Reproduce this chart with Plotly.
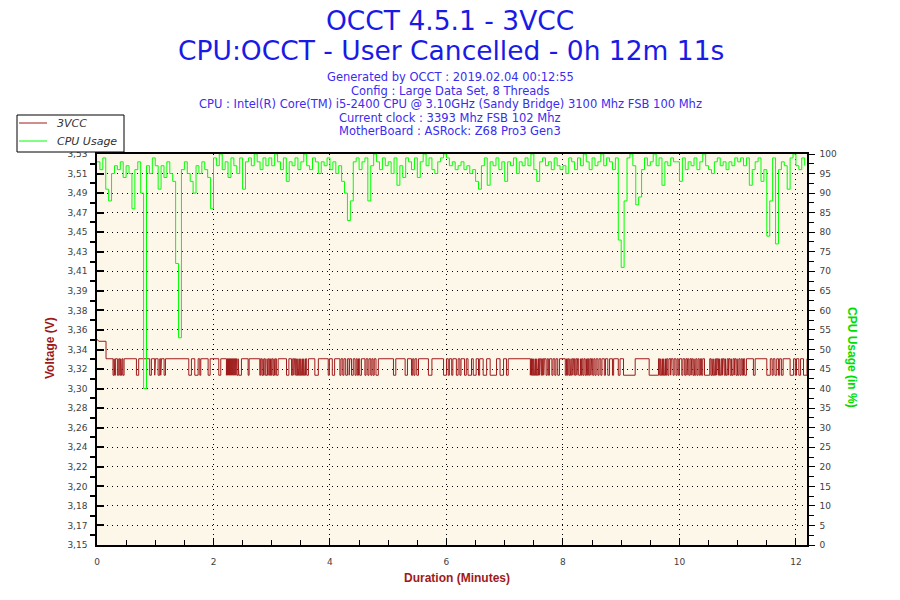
import plotly.graph_objects as go

# CPU usage (%), one value every 0.05 min (3 s)
cpu_step_min = 0.05
cpu_usage = [
    98, 96, 99, 91, 88, 95, 97, 96, 98, 94, 97, 95, 86, 96, 98, 90, 40, 97, 95, 99,
    97, 91, 97, 94, 98, 95, 93, 72, 53, 96, 98, 95, 93, 90, 97, 95, 98, 96, 94, 86,
    99, 97, 100, 96, 98, 94, 99, 97, 95, 99, 91, 98, 99, 97, 100, 98, 96, 99, 97, 99,
    97, 100, 98, 96, 99, 93, 98, 97, 99, 96, 98, 100, 97, 96, 99, 98, 95, 98, 97, 99,
    96, 98, 95, 97, 93, 90, 83, 88, 98, 99, 96, 98, 99, 88, 97, 100, 98, 96, 99, 97,
    98, 95, 99, 92, 97, 94, 99, 98, 96, 99, 94, 98, 100, 97, 99, 96, 95, 98, 99, 100,
    99, 97, 98, 96, 97, 98, 96, 97, 95, 96, 93, 91, 97, 99, 92, 98, 97, 99, 96, 98,
    93, 98, 97, 99, 95, 98, 97, 99, 97, 100, 96, 93, 98, 99, 97, 98, 96, 99, 97, 96,
    97, 95, 99, 98, 96, 99, 97, 100, 98, 96, 99, 97, 98, 100, 97, 99, 98, 96, 99, 78,
    71, 88, 99, 100, 97, 87, 89, 96, 99, 97, 98, 100, 97, 99, 92, 98, 97, 99, 98, 98,
    93, 99, 96, 98, 97, 99, 96, 98, 100, 97, 96, 95, 98, 99, 97, 98, 96, 98, 97, 99,
    98, 99, 97, 99, 92, 96, 98, 99, 93, 96, 79, 88, 99, 77, 96, 98, 97, 91, 99, 100,
    97, 96, 99, 97,
]
cpu_minutes = [i * cpu_step_min for i in range(len(cpu_usage))]

# 3VCC: start-up level, then toggles between a high and a low level
vcc_start = [(0.0, 3.350), (0.03, 3.348), (0.155, 3.348)]
vcc_high = 3.331
vcc_low = 3.315
vcc_end = 12.19
# (start, end) minutes of every interval spent on the low level
vcc_low_spans = [
    (0.275, 0.293), (0.304, 0.316), (0.350, 0.373), (0.390, 0.407), (0.419, 0.430),
    (0.445, 0.465), (0.677, 0.716), (0.905, 0.934), (0.991, 1.003), (1.049, 1.077),
    (1.094, 1.106), (1.152, 1.175), (1.576, 1.621), (1.679, 1.736), (1.765, 1.782),
    (1.908, 1.942), (2.091, 2.125),
    (2.222, 2.232), (2.240, 2.250), (2.258, 2.268), (2.276, 2.286), (2.294, 2.304),
    (2.312, 2.322), (2.330, 2.340), (2.348, 2.358), (2.366, 2.376), (2.384, 2.394),
    (2.402, 2.423), (2.435, 2.480), (2.595, 2.612),
    (2.795, 2.81), (2.83, 2.85), (2.86, 2.87), (2.89, 2.92), (2.93, 2.94), (2.96, 2.98),
    (2.99, 3.00), (3.02, 3.04), (3.05, 3.06), (3.08, 3.11), (3.254, 3.294),
    (3.34, 3.36), (3.38, 3.39), (3.41, 3.43), (3.44, 3.45), (3.46, 3.48), (3.49, 3.50),
    (3.51, 3.53), (3.54, 3.55), (3.56, 3.58), (3.60, 3.63), (3.74, 3.80), (3.97, 3.99),
    (4.04, 4.08), (4.17, 4.19), (4.22, 4.24), (4.27, 4.30), (4.33, 4.34), (4.37, 4.40),
    (4.43, 4.45), (4.47, 4.49), (4.51, 4.54), (4.60, 4.62), (4.65, 4.67), (4.70, 4.72),
    (4.74, 4.76), (4.79, 4.83), (5.09, 5.13), (5.29, 5.33), (5.40, 5.42), (5.44, 5.46),
    (5.49, 5.52), (5.69, 5.75), (5.95, 6.00), (6.03, 6.05),
    (6.09, 6.11), (6.17, 6.20), (6.23, 6.25), (6.31, 6.34), (6.37, 6.43), (6.46, 6.51),
    (6.55, 6.57), (6.63, 6.69), (6.75, 6.86), (6.92, 6.98), (7.03, 7.06),
    (7.44, 7.45), (7.46, 7.48), (7.49, 7.50), (7.51, 7.53), (7.54, 7.55), (7.56, 7.58),
    (7.60, 7.61), (7.63, 7.65), (7.67, 7.68), (7.71, 7.73), (7.75, 7.77),
    (7.81, 7.83), (7.86, 7.88), (7.91, 7.94),
    (8.04, 8.06), (8.07, 8.08), (8.10, 8.12), (8.13, 8.15), (8.17, 8.18), (8.20, 8.22),
    (8.24, 8.25), (8.27, 8.30), (8.31, 8.32), (8.34, 8.36), (8.38, 8.40), (8.41, 8.42),
    (8.44, 8.46), (8.48, 8.49), (8.51, 8.53), (8.55, 8.57),
    (8.60, 8.62), (8.65, 8.67), (8.71, 8.73), (8.77, 8.80), (8.85, 8.87), (8.95, 8.98),
    (9.04, 9.24), (9.48, 9.64),
    (9.66, 9.68), (9.69, 9.71), (9.72, 9.73), (9.74, 9.76), (9.77, 9.78), (9.80, 9.82),
    (9.85, 9.86), (9.89, 9.91), (9.94, 9.96), (9.98, 10.00),
    (10.04, 10.06), (10.09, 10.11), (10.13, 10.14), (10.16, 10.18), (10.20, 10.21),
    (10.23, 10.25), (10.26, 10.28), (10.30, 10.32), (10.34, 10.36), (10.38, 10.40),
    (10.43, 10.52),
    (10.54, 10.56), (10.57, 10.59), (10.60, 10.62), (10.64, 10.65), (10.67, 10.69),
    (10.70, 10.72), (10.74, 10.75), (10.77, 10.79), (10.80, 10.82), (10.84, 10.85),
    (10.87, 10.89), (10.90, 10.92), (10.94, 10.95), (10.97, 10.99), (11.00, 11.02),
    (11.04, 11.06), (11.08, 11.10), (11.12, 11.15),
    (11.27, 11.30), (11.50, 11.56), (11.59, 11.61), (11.64, 11.67), (11.70, 11.72),
    (11.75, 11.78), (11.90, 11.96), (11.99, 12.01), (12.05, 12.08), (12.13, 12.19),
]

# axis ticks
volt_ticktext = ["3,15", "3,17", "3,18", "3,20", "3,22", "3,24", "3,26", "3,28", "3,30",
                 "3,32", "3,34", "3,36", "3,38", "3,39", "3,41", "3,43", "3,45", "3,47",
                 "3,49", "3,51", "3,53"]
volt_min, volt_max = 3.15, 3.53
minute_ticks = [0, 2, 4, 6, 8, 10, 12]

title_1 = "OCCT 4.5.1 - 3VCC"
title_2 = "CPU:OCCT - User Cancelled - 0h 12m 11s"
info_lines = [
    "Generated by OCCT : 2019.02.04 00:12:55",
    "Config : Large Data Set, 8 Threads",
    "CPU : Intel(R) Core(TM) i5-2400 CPU @ 3.10GHz (Sandy Bridge) 3100 Mhz FSB 100 Mhz",
    "Current clock : 3393 Mhz FSB 102 Mhz",
    "MotherBoard : ASRock: Z68 Pro3 Gen3",
]

# build the voltage step line
vx = [p[0] for p in vcc_start]
vy = [p[1] for p in vcc_start]
vx.append(vcc_start[-1][0]); vy.append(vcc_high)
for s, e in vcc_low_spans:
    vx += [s, s, e, e]
    vy += [vcc_high, vcc_low, vcc_low, vcc_high]
vx.append(vcc_end); vy.append(vcc_high)

step = (volt_max - volt_min) / (len(volt_ticktext) - 1)
volt_tickvals = [volt_min + i * step for i in range(len(volt_ticktext))]

RED = "#9e1a1a"
GREEN = "#00ff00"
TICKFONT = dict(family="DejaVu Sans", size=9, color="#404040")

# plot area in pixels: x 97..807, y 154..545
L, R, T, B = 97, 807, 154, 545
def px(x): return (x - L) / (R - L)
def py(y): return (B - y) / (B - T)

fig = go.Figure()
fig.add_trace(go.Scatter(x=vx, y=vy, mode="lines", name="3VCC",
                         line=dict(color=RED, width=1), yaxis="y"))
fig.add_trace(go.Scatter(x=cpu_minutes, y=cpu_usage, mode="lines", name="CPU Usage",
                         line=dict(color=GREEN, width=1, shape="hv"), yaxis="y2"))

fig.update_layout(
    width=900, height=600,
    margin=dict(l=L, r=900 - R, t=T, b=600 - B, autoexpand=False),
    paper_bgcolor="white",
    plot_bgcolor="#fdf7ea",
    showlegend=False,
    xaxis=dict(range=[0, vcc_end], tickvals=minute_ticks, ticks="inside", ticklen=7,
               tickcolor="black", showline=True, linecolor="black", linewidth=1.5,
               mirror=True, showgrid=True, gridcolor="black", griddash="1px,4px",
               gridwidth=1, zeroline=False, tickfont=TICKFONT, ticklabelstandoff=7,
               minor=dict(dtick=0.5, ticks="inside", ticklen=5, tickcolor="black",
                          showgrid=False)),
    yaxis=dict(range=[volt_min, volt_max], tickvals=volt_tickvals, ticktext=volt_ticktext,
               ticks="inside", ticklen=7, tickwidth=2, tickcolor="black",
               showline=True, linecolor="black", linewidth=1.5, showgrid=False,
               zeroline=False, tickfont=TICKFONT, ticklabelstandoff=6,
               minor=dict(tickvals=[v + step / 2 for v in volt_tickvals[:-1]],
                          ticks="outside", ticklen=5, tickcolor="black", showgrid=False)),
    yaxis2=dict(range=[0, 100], dtick=5, overlaying="y", side="right",
                ticks="outside", ticklen=6, tickcolor="black", showline=True,
                linecolor="black", linewidth=1.5, showgrid=True, gridcolor="black",
                griddash="1px,4px", gridwidth=1, zeroline=False, tickfont=TICKFONT,
                ticklabelstandoff=3,
                minor=dict(dtick=2.5, ticks="outside", ticklen=5, tickcolor="black",
                           showgrid=False)),
)

# legend box drawn by hand to match the compact original one
shapes = [
    dict(type="rect", xref="paper", yref="paper", x0=px(17), x1=px(124), y0=py(152), y1=py(115),
         fillcolor="white", line=dict(color="black", width=1), layer="above"),
    dict(type="line", xref="paper", yref="paper", x0=px(19), x1=px(47), y0=py(123), y1=py(123),
         line=dict(color=RED, width=1), layer="above"),
    dict(type="line", xref="paper", yref="paper", x0=px(19), x1=px(47), y0=py(141), y1=py(141),
         line=dict(color=GREEN, width=1), layer="above"),
]
fig.update_layout(shapes=shapes)

ann = [
    dict(text=title_1, x=px(450), y=py(20), font=dict(family="DejaVu Sans", size=26.5, color="#1a1ae6")),
    dict(text=title_2, x=px(451), y=py(50), font=dict(family="DejaVu Sans", size=26.5, color="#1a1ae6")),
]
for i, line in enumerate(info_lines):
    ann.append(dict(text=line, x=px(450), y=py(77 + 13.6 * i),
                    font=dict(family="DejaVu Sans", size=11.5, color="#3a2cf0")))
ann.append(dict(text="<b>Voltage (V)</b>", x=px(50), y=py(348), textangle=-90,
                font=dict(family="Liberation Sans", size=12, color=RED)))
ann.append(dict(text="<b>CPU Usage (in %)</b>", x=px(852), y=py(358), textangle=90,
                font=dict(family="Liberation Sans", size=12, color="#00dd00")))
ann.append(dict(text="<b>Duration (Minutes)</b>", x=px(457), y=py(578),
                font=dict(family="Liberation Sans", size=12, color=RED)))
for a in ann:
    a.update(xanchor="center")
ann.append(dict(text="<i>3VCC</i>", x=px(55), y=py(123), xanchor="left",
                font=dict(family="DejaVu Sans", size=11, color="#303030")))
ann.append(dict(text="<i>CPU Usage</i>", x=px(55), y=py(141), xanchor="left",
                font=dict(family="DejaVu Sans", size=11, color="#303030")))
for a in ann:
    a.update(xref="paper", yref="paper", showarrow=False, yanchor="middle")
fig.update_layout(annotations=ann)

fig.write_html("out.html", config={"displayModeBar": False},
               post_script="document.body.style.margin='0';")
